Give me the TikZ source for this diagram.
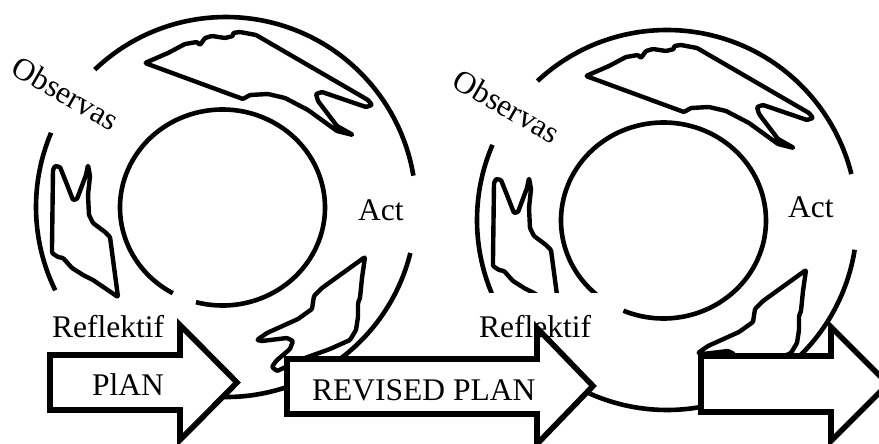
\documentclass[tikz,border=0pt]{standalone}
\usepackage{fontspec}
\setmainfont{Liberation Serif}
\newcommand{\drawblobs}{%
  \draw[blob] (145,63) -- (168,53) -- (185,44) -- (197,42) -- (200,45) -- (205,38) -- (212,36) -- (225,38) -- (233,36) -- (233,33) -- (240,32) -- (256,35) -- (368,100) -- (372,105) -- (366,107) -- (322,92) -- (316,94) -- (318,101) -- (337,126) -- (353,135) -- (337,131) -- (308,110) -- (285,98) -- (268,94) -- (250,95) -- (243,99) -- (232,95) -- cycle;
  \draw[blob] (55,166) -- (60,167) -- (66,182) -- (73,200) -- (77,199) -- (86,175) -- (88,165) -- (90,176) -- (88,195) -- (89,215) -- (93,223) -- (105,232) -- (110,237) -- (118,297) -- (93,280) -- (83,275) -- (80,273) -- (72,268) -- (63,258) -- (58,257) -- (52,253) -- (52,247) -- (53,170) -- cycle;
  \draw[blob] (365,257) -- (362,278) -- (360,298) -- (358,303) -- (358,317) -- (356,330) -- (350,340) -- (330,349) -- (305,358) -- (288,366) -- (277,371) -- (272,367) -- (276,361) -- (290,349) -- (293,341) -- (287,338) -- (262,341) -- (257,340) -- (267,333) -- (298,319) -- (312,309) -- (314,296) -- (322,288) -- cycle;
}
\begin{document}
\begin{tikzpicture}[x=1pt,y=-1pt,
  ring/.style={line width=4.6pt},
  blob/.style={line width=4.4pt, line join=round, rounded corners=1pt},
  blockarrow/.style={line width=5.6pt, fill=white, line join=miter},
  lbl/.style={font=\fontsize{31.5}{37}\selectfont, inner sep=0pt, anchor=base west},
  rot/.style={font=\fontsize{31.5}{37}\selectfont, inner sep=0pt, anchor=center, rotate=-30}]
\useasboundingbox (0,0) rectangle (879,444);
\clip (0,0) rectangle (879,444);
% left cycle
\begin{scope}
  \coordinate (oc1) at (226,207);
  \coordinate (ic1) at (222.5,207.5);
  \draw[ring] (oc1) ++(-133.7:190) arc[start angle=-133.7, end angle=-9.5, radius=190];
  \draw[ring] (oc1) ++(-206:190) arc[start angle=-206, end angle=-157, radius=190];
  \draw[ring] (oc1) ++(14:190) arc[start angle=14, end angle=100, radius=190];
  \draw[ring] (ic1) ++(119:102.5 and 98) arc[start angle=119, end angle=465, x radius=102.5, y radius=98];
  \drawblobs
  \node[rot] (obs1) at (66,93) {Observas};
\end{scope}
% right cycle
\begin{scope}[shift={(441,13)}]
  \coordinate (oc2) at (226,207);
  \coordinate (ic2) at (222.5,207.5);
  \draw[ring] (oc2) ++(-133:190) arc[start angle=-133, end angle=-14, radius=190];
  \draw[ring] (oc2) ++(-202.7:190) arc[start angle=-202.7, end angle=-156.7, radius=190];
  \draw[ring] (oc2) ++(9:190) arc[start angle=9, end angle=118, radius=190];
  \draw[ring] (ic2) ++(131:102.5 and 98) arc[start angle=131, end angle=473, x radius=102.5, y radius=98];
  \drawblobs
  \node[rot] (obs2) at (66,93) {Observas};
\end{scope}
% white box behind right Reflektif
\fill[white] (476,293) rectangle (622,358);
% block arrows
\draw[blockarrow] (50,355) -- (180,355) -- (180,325) -- (237,382.5) -- (180,440) -- (180,410) -- (50,410) -- cycle;
\draw[blockarrow] (287,359) -- (537,359) -- (537,328) -- (593,386) -- (537,444) -- (537,414) -- (287,414) -- cycle;
\draw[blockarrow] (701,356) -- (831,356) -- (831,327) -- (888,384) -- (831,441) -- (831,412) -- (701,412) -- cycle;
% labels
\node[lbl] (act1) at (358,220) {Act};
\node[lbl] (act2) at (788,217) {Act};
\node[lbl] (ref1) at (52,337) {Reflektif};
\node[lbl] (ref2) at (479,337) {Reflektif};
\node[lbl] (plan) at (92,395) {PlAN};
\node[lbl] (rplan) at (312,400) {REVISED PLAN};
\end{tikzpicture}
\end{document}
